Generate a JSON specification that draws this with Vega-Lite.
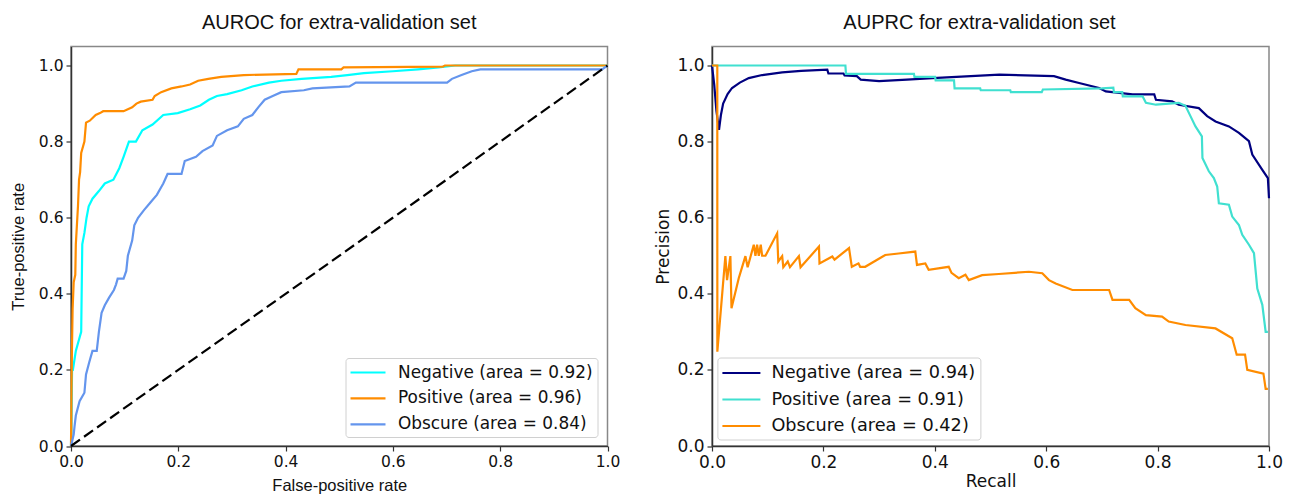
{
  "$schema": "https://vega.github.io/schema/vega-lite/v6.json",
  "background": "white",
  "padding": {"left": 9, "top": 11.5, "right": 5, "bottom": 0},
  "bounds": "flush",
  "spacing": 104,
  "config": {
    "view": {"stroke": "#888888", "strokeWidth": 1.5},
    "axis": {"grid": false, "labelFlush": false, "labelOverlap": false, "domainColor": "#333333", "domainWidth": 1.5, "tickColor": "#333333", "tickWidth": 1.2, "tickSize": 5, "labelPadding": 3, "labelColor": "#111111", "titleColor": "#111111", "titleFontWeight": "normal"},
    "title": {"fontWeight": "normal", "color": "#111111"}
  },
  "resolve": {"scale": {"color": "independent"}, "legend": {"color": "independent"}},
  "datasets": {
    "roc": [
      {"c":"Negative (area = 0.92)","x":0,"y":0},{"c":"Negative (area = 0.92)","x":0.002,"y":0.2},{"c":"Negative (area = 0.92)","x":0.0035,"y":0.2},{"c":"Negative (area = 0.92)","x":0.009,"y":0.25},{"c":"Negative (area = 0.92)","x":0.013,"y":0.27},{"c":"Negative (area = 0.92)","x":0.019,"y":0.3},{"c":"Negative (area = 0.92)","x":0.021,"y":0.53},{"c":"Negative (area = 0.92)","x":0.025,"y":0.56},{"c":"Negative (area = 0.92)","x":0.029,"y":0.6},{"c":"Negative (area = 0.92)","x":0.033,"y":0.63},{"c":"Negative (area = 0.92)","x":0.04,"y":0.65},{"c":"Negative (area = 0.92)","x":0.052,"y":0.67},{"c":"Negative (area = 0.92)","x":0.063,"y":0.69},{"c":"Negative (area = 0.92)","x":0.079,"y":0.7},{"c":"Negative (area = 0.92)","x":0.09,"y":0.73},{"c":"Negative (area = 0.92)","x":0.098,"y":0.76},{"c":"Negative (area = 0.92)","x":0.108,"y":0.8},{"c":"Negative (area = 0.92)","x":0.121,"y":0.8},{"c":"Negative (area = 0.92)","x":0.133,"y":0.83},{"c":"Negative (area = 0.92)","x":0.152,"y":0.845},{"c":"Negative (area = 0.92)","x":0.172,"y":0.87},{"c":"Negative (area = 0.92)","x":0.199,"y":0.875},{"c":"Negative (area = 0.92)","x":0.222,"y":0.885},{"c":"Negative (area = 0.92)","x":0.241,"y":0.895},{"c":"Negative (area = 0.92)","x":0.257,"y":0.91},{"c":"Negative (area = 0.92)","x":0.272,"y":0.92},{"c":"Negative (area = 0.92)","x":0.291,"y":0.925},{"c":"Negative (area = 0.92)","x":0.318,"y":0.935},{"c":"Negative (area = 0.92)","x":0.338,"y":0.945},{"c":"Negative (area = 0.92)","x":0.369,"y":0.955},{"c":"Negative (area = 0.92)","x":0.392,"y":0.96},{"c":"Negative (area = 0.92)","x":0.43,"y":0.965},{"c":"Negative (area = 0.92)","x":0.485,"y":0.97},{"c":"Negative (area = 0.92)","x":0.515,"y":0.975},{"c":"Negative (area = 0.92)","x":0.546,"y":0.98},{"c":"Negative (area = 0.92)","x":0.6,"y":0.985},{"c":"Negative (area = 0.92)","x":0.647,"y":0.99},{"c":"Negative (area = 0.92)","x":0.685,"y":0.995},{"c":"Negative (area = 0.92)","x":0.716,"y":1.0},{"c":"Negative (area = 0.92)","x":1.0,"y":1.0},
      {"c":"Positive (area = 0.96)","x":0,"y":0},{"c":"Positive (area = 0.96)","x":0.0015,"y":0.23},{"c":"Positive (area = 0.96)","x":0.003,"y":0.36},{"c":"Positive (area = 0.96)","x":0.005,"y":0.43},{"c":"Positive (area = 0.96)","x":0.008,"y":0.45},{"c":"Positive (area = 0.96)","x":0.009,"y":0.53},{"c":"Positive (area = 0.96)","x":0.013,"y":0.63},{"c":"Positive (area = 0.96)","x":0.015,"y":0.7},{"c":"Positive (area = 0.96)","x":0.017,"y":0.72},{"c":"Positive (area = 0.96)","x":0.019,"y":0.77},{"c":"Positive (area = 0.96)","x":0.025,"y":0.8},{"c":"Positive (area = 0.96)","x":0.028,"y":0.85},{"c":"Positive (area = 0.96)","x":0.035,"y":0.855},{"c":"Positive (area = 0.96)","x":0.046,"y":0.87},{"c":"Positive (area = 0.96)","x":0.054,"y":0.875},{"c":"Positive (area = 0.96)","x":0.06,"y":0.88},{"c":"Positive (area = 0.96)","x":0.098,"y":0.88},{"c":"Positive (area = 0.96)","x":0.106,"y":0.885},{"c":"Positive (area = 0.96)","x":0.114,"y":0.89},{"c":"Positive (area = 0.96)","x":0.122,"y":0.9},{"c":"Positive (area = 0.96)","x":0.13,"y":0.905},{"c":"Positive (area = 0.96)","x":0.152,"y":0.91},{"c":"Positive (area = 0.96)","x":0.156,"y":0.92},{"c":"Positive (area = 0.96)","x":0.168,"y":0.93},{"c":"Positive (area = 0.96)","x":0.187,"y":0.94},{"c":"Positive (area = 0.96)","x":0.206,"y":0.945},{"c":"Positive (area = 0.96)","x":0.222,"y":0.95},{"c":"Positive (area = 0.96)","x":0.237,"y":0.96},{"c":"Positive (area = 0.96)","x":0.256,"y":0.965},{"c":"Positive (area = 0.96)","x":0.28,"y":0.97},{"c":"Positive (area = 0.96)","x":0.322,"y":0.975},{"c":"Positive (area = 0.96)","x":0.42,"y":0.978},{"c":"Positive (area = 0.96)","x":0.424,"y":0.99},{"c":"Positive (area = 0.96)","x":0.504,"y":0.99},{"c":"Positive (area = 0.96)","x":0.508,"y":0.995},{"c":"Positive (area = 0.96)","x":0.693,"y":0.997},{"c":"Positive (area = 0.96)","x":0.697,"y":1.0},{"c":"Positive (area = 0.96)","x":1.0,"y":1.0},
      {"c":"Obscure (area = 0.84)","x":0,"y":0},{"c":"Obscure (area = 0.84)","x":0.005,"y":0.03},{"c":"Obscure (area = 0.84)","x":0.0065,"y":0.05},{"c":"Obscure (area = 0.84)","x":0.009,"y":0.08},{"c":"Obscure (area = 0.84)","x":0.016,"y":0.118},{"c":"Obscure (area = 0.84)","x":0.025,"y":0.14},{"c":"Obscure (area = 0.84)","x":0.028,"y":0.188},{"c":"Obscure (area = 0.84)","x":0.034,"y":0.22},{"c":"Obscure (area = 0.84)","x":0.04,"y":0.25},{"c":"Obscure (area = 0.84)","x":0.048,"y":0.25},{"c":"Obscure (area = 0.84)","x":0.052,"y":0.3},{"c":"Obscure (area = 0.84)","x":0.057,"y":0.35},{"c":"Obscure (area = 0.84)","x":0.063,"y":0.37},{"c":"Obscure (area = 0.84)","x":0.071,"y":0.39},{"c":"Obscure (area = 0.84)","x":0.08,"y":0.41},{"c":"Obscure (area = 0.84)","x":0.084,"y":0.425},{"c":"Obscure (area = 0.84)","x":0.087,"y":0.44},{"c":"Obscure (area = 0.84)","x":0.098,"y":0.44},{"c":"Obscure (area = 0.84)","x":0.103,"y":0.46},{"c":"Obscure (area = 0.84)","x":0.106,"y":0.5},{"c":"Obscure (area = 0.84)","x":0.114,"y":0.54},{"c":"Obscure (area = 0.84)","x":0.118,"y":0.58},{"c":"Obscure (area = 0.84)","x":0.125,"y":0.6},{"c":"Obscure (area = 0.84)","x":0.136,"y":0.62},{"c":"Obscure (area = 0.84)","x":0.148,"y":0.64},{"c":"Obscure (area = 0.84)","x":0.16,"y":0.66},{"c":"Obscure (area = 0.84)","x":0.172,"y":0.69},{"c":"Obscure (area = 0.84)","x":0.18,"y":0.715},{"c":"Obscure (area = 0.84)","x":0.206,"y":0.715},{"c":"Obscure (area = 0.84)","x":0.212,"y":0.749},{"c":"Obscure (area = 0.84)","x":0.233,"y":0.76},{"c":"Obscure (area = 0.84)","x":0.245,"y":0.775},{"c":"Obscure (area = 0.84)","x":0.264,"y":0.79},{"c":"Obscure (area = 0.84)","x":0.272,"y":0.815},{"c":"Obscure (area = 0.84)","x":0.291,"y":0.83},{"c":"Obscure (area = 0.84)","x":0.311,"y":0.84},{"c":"Obscure (area = 0.84)","x":0.322,"y":0.86},{"c":"Obscure (area = 0.84)","x":0.338,"y":0.87},{"c":"Obscure (area = 0.84)","x":0.349,"y":0.89},{"c":"Obscure (area = 0.84)","x":0.361,"y":0.91},{"c":"Obscure (area = 0.84)","x":0.376,"y":0.92},{"c":"Obscure (area = 0.84)","x":0.392,"y":0.93},{"c":"Obscure (area = 0.84)","x":0.434,"y":0.935},{"c":"Obscure (area = 0.84)","x":0.45,"y":0.94},{"c":"Obscure (area = 0.84)","x":0.519,"y":0.945},{"c":"Obscure (area = 0.84)","x":0.531,"y":0.955},{"c":"Obscure (area = 0.84)","x":0.701,"y":0.955},{"c":"Obscure (area = 0.84)","x":0.71,"y":0.965},{"c":"Obscure (area = 0.84)","x":0.728,"y":0.975},{"c":"Obscure (area = 0.84)","x":0.747,"y":0.985},{"c":"Obscure (area = 0.84)","x":0.763,"y":0.99},{"c":"Obscure (area = 0.84)","x":0.99,"y":0.99},{"c":"Obscure (area = 0.84)","x":1.0,"y":1.0}
    ],
    "diag": [{"x":0,"y":0},{"x":1,"y":1}],
    "pr": [
      {"c":"Negative (area = 0.94)","x":0,"y":1.0},{"c":"Negative (area = 0.94)","x":0.004,"y":0.95},{"c":"Negative (area = 0.94)","x":0.008,"y":0.88},{"c":"Negative (area = 0.94)","x":0.0126,"y":0.831},{"c":"Negative (area = 0.94)","x":0.016,"y":0.87},{"c":"Negative (area = 0.94)","x":0.02,"y":0.9},{"c":"Negative (area = 0.94)","x":0.028,"y":0.925},{"c":"Negative (area = 0.94)","x":0.036,"y":0.941},{"c":"Negative (area = 0.94)","x":0.05,"y":0.955},{"c":"Negative (area = 0.94)","x":0.066,"y":0.967},{"c":"Negative (area = 0.94)","x":0.09,"y":0.975},{"c":"Negative (area = 0.94)","x":0.126,"y":0.982},{"c":"Negative (area = 0.94)","x":0.16,"y":0.986},{"c":"Negative (area = 0.94)","x":0.207,"y":0.989},{"c":"Negative (area = 0.94)","x":0.209,"y":0.979},{"c":"Negative (area = 0.94)","x":0.236,"y":0.979},{"c":"Negative (area = 0.94)","x":0.238,"y":0.974},{"c":"Negative (area = 0.94)","x":0.26,"y":0.972},{"c":"Negative (area = 0.94)","x":0.267,"y":0.963},{"c":"Negative (area = 0.94)","x":0.3,"y":0.959},{"c":"Negative (area = 0.94)","x":0.35,"y":0.963},{"c":"Negative (area = 0.94)","x":0.396,"y":0.967},{"c":"Negative (area = 0.94)","x":0.516,"y":0.976},{"c":"Negative (area = 0.94)","x":0.614,"y":0.972},{"c":"Negative (area = 0.94)","x":0.635,"y":0.963},{"c":"Negative (area = 0.94)","x":0.659,"y":0.954},{"c":"Negative (area = 0.94)","x":0.695,"y":0.941},{"c":"Negative (area = 0.94)","x":0.707,"y":0.932},{"c":"Negative (area = 0.94)","x":0.731,"y":0.928},{"c":"Negative (area = 0.94)","x":0.755,"y":0.924},{"c":"Negative (area = 0.94)","x":0.794,"y":0.924},{"c":"Negative (area = 0.94)","x":0.797,"y":0.91},{"c":"Negative (area = 0.94)","x":0.826,"y":0.906},{"c":"Negative (area = 0.94)","x":0.838,"y":0.897},{"c":"Negative (area = 0.94)","x":0.874,"y":0.888},{"c":"Negative (area = 0.94)","x":0.889,"y":0.867},{"c":"Negative (area = 0.94)","x":0.904,"y":0.853},{"c":"Negative (area = 0.94)","x":0.928,"y":0.84},{"c":"Negative (area = 0.94)","x":0.946,"y":0.823},{"c":"Negative (area = 0.94)","x":0.964,"y":0.801},{"c":"Negative (area = 0.94)","x":0.97,"y":0.766},{"c":"Negative (area = 0.94)","x":0.988,"y":0.726},{"c":"Negative (area = 0.94)","x":0.998,"y":0.704},{"c":"Negative (area = 0.94)","x":1.0,"y":0.651},
      {"c":"Positive (area = 0.91)","x":0,"y":1},{"c":"Positive (area = 0.91)","x":0.2395,"y":1},{"c":"Positive (area = 0.91)","x":0.2405,"y":0.978},{"c":"Positive (area = 0.91)","x":0.3625,"y":0.978},{"c":"Positive (area = 0.91)","x":0.3635,"y":0.97},{"c":"Positive (area = 0.91)","x":0.4005,"y":0.97},{"c":"Positive (area = 0.91)","x":0.4015,"y":0.961},{"c":"Positive (area = 0.91)","x":0.4345,"y":0.961},{"c":"Positive (area = 0.91)","x":0.4355,"y":0.94},{"c":"Positive (area = 0.91)","x":0.4815,"y":0.94},{"c":"Positive (area = 0.91)","x":0.4825,"y":0.935},{"c":"Positive (area = 0.91)","x":0.5355,"y":0.935},{"c":"Positive (area = 0.91)","x":0.5365,"y":0.93},{"c":"Positive (area = 0.91)","x":0.592,"y":0.93},{"c":"Positive (area = 0.91)","x":0.594,"y":0.937},{"c":"Positive (area = 0.91)","x":0.7,"y":0.94},{"c":"Positive (area = 0.91)","x":0.7205,"y":0.942},{"c":"Positive (area = 0.91)","x":0.7215,"y":0.93},{"c":"Positive (area = 0.91)","x":0.7365,"y":0.93},{"c":"Positive (area = 0.91)","x":0.7375,"y":0.919},{"c":"Positive (area = 0.91)","x":0.773,"y":0.919},{"c":"Positive (area = 0.91)","x":0.779,"y":0.902},{"c":"Positive (area = 0.91)","x":0.797,"y":0.897},{"c":"Positive (area = 0.91)","x":0.838,"y":0.902},{"c":"Positive (area = 0.91)","x":0.85,"y":0.894},{"c":"Positive (area = 0.91)","x":0.859,"y":0.867},{"c":"Positive (area = 0.91)","x":0.868,"y":0.84},{"c":"Positive (area = 0.91)","x":0.8795,"y":0.814},{"c":"Positive (area = 0.91)","x":0.8805,"y":0.757},{"c":"Positive (area = 0.91)","x":0.892,"y":0.722},{"c":"Positive (area = 0.91)","x":0.901,"y":0.704},{"c":"Positive (area = 0.91)","x":0.907,"y":0.682},{"c":"Positive (area = 0.91)","x":0.91,"y":0.638},{"c":"Positive (area = 0.91)","x":0.928,"y":0.634},{"c":"Positive (area = 0.91)","x":0.934,"y":0.603},{"c":"Positive (area = 0.91)","x":0.946,"y":0.581},{"c":"Positive (area = 0.91)","x":0.952,"y":0.555},{"c":"Positive (area = 0.91)","x":0.964,"y":0.529},{"c":"Positive (area = 0.91)","x":0.973,"y":0.507},{"c":"Positive (area = 0.91)","x":0.979,"y":0.414},{"c":"Positive (area = 0.91)","x":0.988,"y":0.371},{"c":"Positive (area = 0.91)","x":0.994,"y":0.3},{"c":"Positive (area = 0.91)","x":0.998,"y":0.3},
      {"c":"Obscure (area = 0.42)","x":0,"y":1},{"c":"Obscure (area = 0.42)","x":0.0095,"y":1},{"c":"Obscure (area = 0.42)","x":0.0096,"y":0.248},{"c":"Obscure (area = 0.42)","x":0.024,"y":0.499},{"c":"Obscure (area = 0.42)","x":0.027,"y":0.436},{"c":"Obscure (area = 0.42)","x":0.033,"y":0.499},{"c":"Obscure (area = 0.42)","x":0.035,"y":0.362},{"c":"Obscure (area = 0.42)","x":0.048,"y":0.441},{"c":"Obscure (area = 0.42)","x":0.06,"y":0.499},{"c":"Obscure (area = 0.42)","x":0.064,"y":0.47},{"c":"Obscure (area = 0.42)","x":0.075,"y":0.529},{"c":"Obscure (area = 0.42)","x":0.078,"y":0.5},{"c":"Obscure (area = 0.42)","x":0.081,"y":0.529},{"c":"Obscure (area = 0.42)","x":0.084,"y":0.5},{"c":"Obscure (area = 0.42)","x":0.0875,"y":0.529},{"c":"Obscure (area = 0.42)","x":0.09,"y":0.5},{"c":"Obscure (area = 0.42)","x":0.096,"y":0.5},{"c":"Obscure (area = 0.42)","x":0.117,"y":0.559},{"c":"Obscure (area = 0.42)","x":0.119,"y":0.485},{"c":"Obscure (area = 0.42)","x":0.126,"y":0.499},{"c":"Obscure (area = 0.42)","x":0.128,"y":0.47},{"c":"Obscure (area = 0.42)","x":0.136,"y":0.485},{"c":"Obscure (area = 0.42)","x":0.14,"y":0.47},{"c":"Obscure (area = 0.42)","x":0.156,"y":0.499},{"c":"Obscure (area = 0.42)","x":0.159,"y":0.47},{"c":"Obscure (area = 0.42)","x":0.192,"y":0.524},{"c":"Obscure (area = 0.42)","x":0.193,"y":0.48},{"c":"Obscure (area = 0.42)","x":0.216,"y":0.498},{"c":"Obscure (area = 0.42)","x":0.22,"y":0.49},{"c":"Obscure (area = 0.42)","x":0.246,"y":0.52},{"c":"Obscure (area = 0.42)","x":0.251,"y":0.471},{"c":"Obscure (area = 0.42)","x":0.263,"y":0.48},{"c":"Obscure (area = 0.42)","x":0.266,"y":0.471},{"c":"Obscure (area = 0.42)","x":0.275,"y":0.471},{"c":"Obscure (area = 0.42)","x":0.311,"y":0.502},{"c":"Obscure (area = 0.42)","x":0.335,"y":0.506},{"c":"Obscure (area = 0.42)","x":0.365,"y":0.511},{"c":"Obscure (area = 0.42)","x":0.368,"y":0.476},{"c":"Obscure (area = 0.42)","x":0.383,"y":0.48},{"c":"Obscure (area = 0.42)","x":0.389,"y":0.463},{"c":"Obscure (area = 0.42)","x":0.425,"y":0.471},{"c":"Obscure (area = 0.42)","x":0.43,"y":0.455},{"c":"Obscure (area = 0.42)","x":0.443,"y":0.441},{"c":"Obscure (area = 0.42)","x":0.455,"y":0.45},{"c":"Obscure (area = 0.42)","x":0.461,"y":0.436},{"c":"Obscure (area = 0.42)","x":0.485,"y":0.449},{"c":"Obscure (area = 0.42)","x":0.515,"y":0.452},{"c":"Obscure (area = 0.42)","x":0.569,"y":0.458},{"c":"Obscure (area = 0.42)","x":0.593,"y":0.454},{"c":"Obscure (area = 0.42)","x":0.605,"y":0.436},{"c":"Obscure (area = 0.42)","x":0.617,"y":0.427},{"c":"Obscure (area = 0.42)","x":0.647,"y":0.41},{"c":"Obscure (area = 0.42)","x":0.713,"y":0.41},{"c":"Obscure (area = 0.42)","x":0.719,"y":0.384},{"c":"Obscure (area = 0.42)","x":0.749,"y":0.384},{"c":"Obscure (area = 0.42)","x":0.76,"y":0.362},{"c":"Obscure (area = 0.42)","x":0.779,"y":0.344},{"c":"Obscure (area = 0.42)","x":0.808,"y":0.34},{"c":"Obscure (area = 0.42)","x":0.82,"y":0.327},{"c":"Obscure (area = 0.42)","x":0.85,"y":0.318},{"c":"Obscure (area = 0.42)","x":0.904,"y":0.309},{"c":"Obscure (area = 0.42)","x":0.934,"y":0.283},{"c":"Obscure (area = 0.42)","x":0.942,"y":0.24},{"c":"Obscure (area = 0.42)","x":0.957,"y":0.24},{"c":"Obscure (area = 0.42)","x":0.961,"y":0.2},{"c":"Obscure (area = 0.42)","x":0.99,"y":0.19},{"c":"Obscure (area = 0.42)","x":0.994,"y":0.15},{"c":"Obscure (area = 0.42)","x":0.998,"y":0.15}
    ]
  },
  "hconcat": [
    {
      "width": 536.5,
      "height": 399.5,
      "title": {"text": "AUROC for extra-validation set", "font": "Liberation Sans", "fontSize": 20, "offset": 14},
      "layer": [
        {
          "data": {"name": "roc"},
          "mark": {"type": "line", "strokeWidth": 2.2},
          "encoding": {
            "x": {"field": "x", "type": "quantitative", "scale": {"domain": [0, 1], "nice": false, "zero": false},
                  "axis": {"values": [0, 0.2, 0.4, 0.6, 0.8, 1], "format": ".1f", "title": "False-positive rate", "titleFont": "Liberation Sans", "titleFontSize": 16.5, "titlePadding": 8, "labelFont": "DejaVu Sans", "labelFontSize": 15.5, "labelPadding": 3}},
            "y": {"field": "y", "type": "quantitative", "scale": {"domain": [0, 1.05], "nice": false},
                  "axis": {"values": [0, 0.2, 0.4, 0.6, 0.8, 1], "format": ".1f", "title": "True-positive rate", "titleFont": "Liberation Sans", "titleFontSize": 16.5, "titlePadding": 12, "labelFont": "DejaVu Sans", "labelFontSize": 15.5}},
            "color": {"field": "c", "type": "nominal",
                      "scale": {"domain": ["Negative (area = 0.92)", "Positive (area = 0.96)", "Obscure (area = 0.84)"], "range": ["#00FFFF", "#FF8C00", "#6495ED"]},
                      "legend": {"orient": "none", "legendX": 274.5, "legendY": 311.5, "title": null, "symbolType": "M-2,0L2,0", "symbolSize": 306, "symbolStrokeWidth": 2.2, "symbolOffset": 8, "labelFont": "DejaVu Sans", "labelFontSize": 16.9, "labelColor": "#111111", "labelOffset": 20, "labelLimit": 400, "rowPadding": 7.9, "padding": 4.5, "strokeColor": "#d0d0d0", "cornerRadius": 3, "fillColor": "white"}}
          }
        },
        {
          "data": {"name": "diag"},
          "mark": {"type": "line", "color": "black", "strokeDash": [11, 5], "strokeWidth": 2.2},
          "encoding": {
            "x": {"field": "x", "type": "quantitative"},
            "y": {"field": "y", "type": "quantitative"}
          }
        }
      ]
    },
    {
      "width": 557,
      "height": 399.5,
      "title": {"text": "AUPRC for extra-validation set", "font": "Liberation Sans", "fontSize": 20, "offset": 14, "dx": -11},
      "data": {"name": "pr"},
      "mark": {"type": "line", "strokeWidth": 2.2},
      "encoding": {
        "x": {"field": "x", "type": "quantitative", "scale": {"domain": [0, 1], "nice": false, "zero": false},
              "axis": {"values": [0, 0.2, 0.4, 0.6, 0.8, 1], "format": ".1f", "title": "Recall", "titleFont": "DejaVu Sans", "titleFontSize": 17, "titlePadding": 3, "labelFont": "DejaVu Sans", "labelFontSize": 17, "labelPadding": 3.5}},
        "y": {"field": "y", "type": "quantitative", "scale": {"domain": [0, 1.05], "nice": false},
              "axis": {"values": [0, 0.2, 0.4, 0.6, 0.8, 1], "format": ".1f", "title": "Precision", "titleFont": "DejaVu Sans", "titleFontSize": 17, "titlePadding": 4, "labelFont": "DejaVu Sans", "labelFontSize": 17}},
        "color": {"field": "c", "type": "nominal",
                  "scale": {"domain": ["Negative (area = 0.94)", "Positive (area = 0.91)", "Obscure (area = 0.42)"], "range": ["#000080", "#40E0D0", "#FF8C00"]},
                  "legend": {"orient": "none", "legendX": 5.4, "legendY": 311, "title": null, "symbolType": "M-2,0L2,0", "symbolSize": 361, "symbolStrokeWidth": 2.2, "symbolOffset": 8.5, "labelFont": "DejaVu Sans", "labelFontSize": 17.7, "labelColor": "#111111", "labelOffset": 19, "labelLimit": 400, "rowPadding": 6.5, "padding": 4.5, "strokeColor": "#d0d0d0", "cornerRadius": 3, "fillColor": "white"}}
      }
    }
  ]
}
